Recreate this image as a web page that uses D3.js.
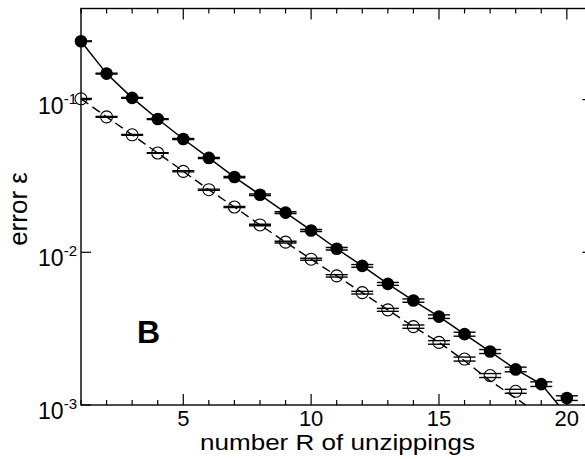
<!DOCTYPE html>
<html>
<head>
<meta charset="utf-8">
<script src="https://cdn.jsdelivr.net/npm/d3@7"></script>
<style>
  body { margin: 0; background: #fff; }
  svg { display: block; font-family: "Liberation Sans", Arial, sans-serif; }
</style>
</head>
<body>
<div id="chart"></div>
<script>
// data
const rFilled = d3.range(1, 21);
const epsFilled = [0.241, 0.148, 0.1026, 0.0746, 0.0552, 0.0415, 0.0311, 0.0238, 0.0182, 0.0139,
                   0.01055, 0.00815, 0.00621, 0.00483, 0.00379, 0.00291, 0.00224, 0.00171, 0.00137, 0.00111];
const errFilled = [0.004, 0.005, 0.006, 0.006, 0.008, 0.008, 0.010, 0.012, 0.013, 0.015,
                   0.018, 0.020, 0.022, 0.025, 0.027, 0.030, 0.030, 0.035, 0.035, 0.035];

const rOpen = d3.range(1, 19);
const epsOpen = [0.1012, 0.0771, 0.0588, 0.0447, 0.0339, 0.0257, 0.0198, 0.0151, 0.01166, 0.00901,
                 0.00701, 0.00544, 0.00420, 0.00326, 0.00257, 0.00200, 0.00156, 0.00123];
const errOpen = [0.004, 0.005, 0.006, 0.006, 0.008, 0.008, 0.010, 0.012, 0.013, 0.015,
                 0.018, 0.020, 0.022, 0.025, 0.027, 0.030, 0.030, 0.030];

// fitted curves (solid through filled, dashed through open)
const rFitSolid = d3.range(1, 21);
const fitSolid = [0.241, 0.148, 0.1026, 0.0746, 0.0552, 0.0415, 0.0311, 0.0238, 0.0182, 0.0139,
                  0.01055, 0.00815, 0.00621, 0.00483, 0.00379, 0.00291, 0.00224, 0.00171, 0.00137, 0.00086];
const rFitDashed = d3.range(1, 20);
const fitDashed = [0.1012, 0.0771, 0.0588, 0.0447, 0.0339, 0.0257, 0.0198, 0.0151, 0.01166, 0.00901,
                   0.00701, 0.00544, 0.00420, 0.00326, 0.00257, 0.00195, 0.00144, 0.00111, 0.00085];

const xMajor = [5, 10, 15, 20];
const xMinor = d3.range(1, 22);
const yMajor = [0.1, 0.01, 0.001];
const yLabels = ["-1", "-2", "-3"];

const W = 585, H = 459;
const svg = d3.select("#chart").append("svg")
    .attr("width", W)
    .attr("height", H);

const x = d3.scaleLinear().domain([1, 21]).range([81, 592.4]);
const y = d3.scaleLog().domain([0.001, 0.395]).range([405, 8.5]);

const [x0, x1] = x.range();
const [y0, y1] = y.range();

svg.append("clipPath").attr("id", "plot-clip")
  .append("rect")
    .attr("x", x0).attr("y", y1)
    .attr("width", x1 - x0).attr("height", y0 - y1);

const plot = svg.append("g").attr("clip-path", "url(#plot-clip)");

const line = d3.line().x(d => x(d[0])).y(d => y(d[1]));

plot.append("path")
    .datum(d3.zip(rFitSolid, fitSolid))
    .attr("fill", "none")
    .attr("stroke", "#000")
    .attr("stroke-width", 1.5)
    .attr("d", line);

plot.append("path")
    .datum(d3.zip(rFitDashed, fitDashed))
    .attr("fill", "none")
    .attr("stroke", "#000")
    .attr("stroke-width", 1.4)
    .attr("stroke-dasharray", "9,5")
    .attr("d", line);

// error bar caps
function caps(r, v, e) {
  const pts = [];
  r.forEach((ri, i) => {
    pts.push([ri, v[i] * (1 + e[i])]);
    pts.push([ri, v[i] * (1 - e[i])]);
  });
  return pts;
}

plot.selectAll(".cap-filled")
    .data(caps(rFilled, epsFilled, errFilled))
    .enter().append("line")
    .attr("class", "cap-filled")
    .attr("x1", d => x(d[0]) - 11)
    .attr("x2", d => x(d[0]) + 11)
    .attr("y1", d => y(d[1]))
    .attr("y2", d => y(d[1]))
    .attr("stroke", "#000")
    .attr("stroke-width", 1.4);

plot.selectAll(".cap-open")
    .data(caps(rOpen, epsOpen, errOpen))
    .enter().append("line")
    .attr("class", "cap-open")
    .attr("x1", d => x(d[0]) - 11)
    .attr("x2", d => x(d[0]) + 11)
    .attr("y1", d => y(d[1]))
    .attr("y2", d => y(d[1]))
    .attr("stroke", "#000")
    .attr("stroke-width", 1.4);

// markers
svg.selectAll(".pt-filled")
    .data(d3.zip(rFilled, epsFilled))
    .enter().append("circle")
    .attr("class", "pt-filled")
    .attr("cx", d => x(d[0]))
    .attr("cy", d => y(d[1]))
    .attr("r", 6.3)
    .attr("fill", "#000");

svg.selectAll(".pt-open")
    .data(d3.zip(rOpen, epsOpen))
    .enter().append("circle")
    .attr("class", "pt-open")
    .attr("cx", d => x(d[0]))
    .attr("cy", d => y(d[1]))
    .attr("r", 6)
    .attr("fill", "none")
    .attr("stroke", "#000")
    .attr("stroke-width", 1.1);

// frame
svg.append("rect")
    .attr("x", x0).attr("y", y1)
    .attr("width", x1 - x0).attr("height", y0 - y1)
    .attr("fill", "none")
    .attr("stroke", "#000")
    .attr("stroke-width", 1.4);

// x ticks (bottom and top, pointing inward)
const xt = svg.append("g").attr("stroke", "#000").attr("stroke-width", 1.2);
xMinor.forEach(v => {
  const len = xMajor.includes(v) ? 11 : 5;
  xt.append("line").attr("x1", x(v)).attr("x2", x(v)).attr("y1", y0).attr("y2", y0 - len);
  xt.append("line").attr("x1", x(v)).attr("x2", x(v)).attr("y1", y1).attr("y2", y1 + len);
});

svg.selectAll(".xlab")
    .data(xMajor)
    .enter().append("text")
    .attr("class", "xlab")
    .attr("x", d => x(d))
    .attr("y", 426)
    .attr("text-anchor", "middle")
    .attr("font-size", 22)
    .text(d => d);

// y ticks (left and right, pointing inward)
yMajor.forEach(v => {
  xt.append("line").attr("x1", x0).attr("x2", x0 + 10).attr("y1", y(v)).attr("y2", y(v));
  xt.append("line").attr("x1", x1).attr("x2", x1 - 10).attr("y1", y(v)).attr("y2", y(v));
});

const ylab = svg.selectAll(".ylab")
    .data(yMajor)
    .enter().append("text")
    .attr("class", "ylab")
    .attr("x", 77)
    .attr("y", d => y(d) + 14)
    .attr("text-anchor", "end")
    .attr("font-size", 23);
ylab.append("tspan").text("10");
ylab.append("tspan")
    .attr("dy", -10)
    .attr("font-size", 15)
    .text((d, i) => yLabels[i]);

// axis titles
svg.append("text")
    .attr("x", 337.5)
    .attr("y", 450)
    .attr("text-anchor", "middle")
    .attr("font-size", 22)
    .attr("textLength", 275)
    .attr("lengthAdjust", "spacingAndGlyphs")
    .text("number R of unzippings");

svg.append("text")
    .attr("transform", "translate(27,209) rotate(-90)")
    .attr("text-anchor", "middle")
    .attr("font-size", 26)
    .text("error \u03b5");

svg.append("text")
    .attr("x", 137)
    .attr("y", 343)
    .attr("font-size", 32)
    .attr("font-weight", "bold")
    .text("B");
</script>
</body>
</html>
